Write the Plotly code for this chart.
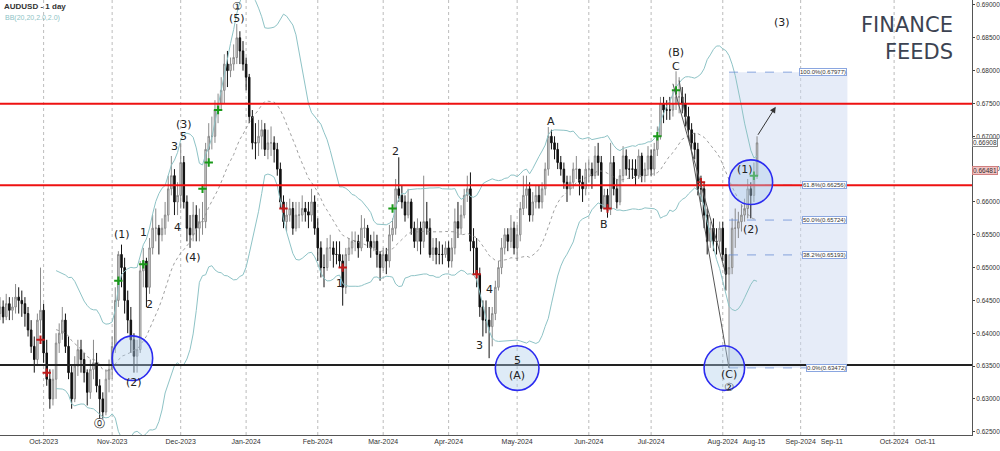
import numpy as np
import pandas as pd
import plotly.graph_objects as go

start_date = "2023-09-11"
closes = [6430,6440,6425,6445,6435, 6440,6455,6450,6445,6430, 6405,6380,6360,6420,6435,
6370,6330,6300,6330,6385, 6400,6420,6380,6340,6300, 6350,6375,6360,6340,6310,
6345,6355,6320,6300,6280, 6330,6345,6380,6450,6520, 6500,6450,6420,6390,6365,
6375,6495,6510,6470,6530, 6560,6560,6550,6560,6580, 6620,6640,6600,6610,6660,
6600,6560,6550,6580,6560, 6570,6570,6680,6700,6700, 6740,6750,6770,6810,6800,
6810,6820,6850,6830,6810, 6790,6730,6690,6690,6700, 6710,6680,6690,6690,6680,
6650,6600,6570,6580,6590, 6560,6580,6580,6590,6585, 6580,6600,6560,6530,6500,
6500,6530,6530,6520,6520, 6510,6470,6520,6530,6540, 6540,6530,6560,6560,6540,
6530,6540,6520,6500,6520, 6510,6550,6560,6620,6610, 6600,6580,6600,6560,6540,
6560,6540,6570,6560,6520, 6530,6520,6520,6520,6530, 6510,6530,6570,6560,6580,
6610,6620,6540,6530,6490, 6440,6420,6420,6410,6430, 6470,6500,6530,6550,6540,
6560,6530,6550,6590,6610, 6620,6580,6600,6610,6600, 6620,6650,6700,6690,6680,
6660,6650,6630,6620,6630, 6650,6650,6630,6620,6650, 6650,6640,6670,6660,6590,
6610,6590,6660,6620,6600, 6640,6670,6650,6650,6650, 6640,6670,6640,6650,6670,
6650,6680,6700,6750,6740, 6740,6740,6750,6760,6760, 6750,6730,6710,6690,6680,
6620,6620,6580,6540,6560, 6540,6540,6560,6520,6490, 6500,6560,6560,6570,6580,
6590,6620,6610,6640,6690]
highs = [6445,6455,6450,6460,6455, 6455,6475,6470,6465,6455, 6440,6420,6395,6430,6500,
6445,6390,6345,6345,6400, 6415,6440,6430,6395,6350, 6365,6390,6390,6370,6345,
6360,6390,6370,6330,6310, 6345,6360,6395,6470,6525, 6535,6515,6465,6440,6400,
6390,6510,6530,6515,6545, 6580,6590,6565,6575,6600, 6640,6670,6650,6630,6690,
6670,6610,6580,6600,6595, 6590,6600,6690,6720,6730, 6755,6765,6790,6825,6830,
6820,6840,6871,6860,6845, 6820,6795,6740,6720,6725, 6725,6720,6710,6715,6700,
6690,6660,6610,6600,6605, 6600,6600,6600,6610,6600, 6600,6620,6610,6575,6540,
6520,6545,6550,6540,6540, 6540,6520,6530,6545,6555, 6555,6550,6580,6575,6565,
6550,6555,6550,6525,6530, 6530,6565,6575,6635,6668, 6625,6610,6620,6605,6570,
6575,6570,6640,6600,6575, 6545,6545,6540,6535,6540, 6540,6545,6590,6600,6595,
6620,6640,6645,6560,6545, 6500,6450,6450,6440,6440, 6480,6510,6545,6560,6560,
6580,6570,6565,6600,6640, 6640,6630,6615,6625,6625, 6630,6660,6714,6710,6700,
6690,6670,6660,6640,6640, 6660,6670,6650,6640,6660, 6665,6660,6685,6690,6670,
6620,6620,6690,6670,6635, 6650,6685,6680,6665,6665, 6665,6680,6675,6660,6685,
6680,6690,6715,6760,6760, 6755,6760,6770,6799,6790, 6775,6765,6745,6720,6705,
6690,6640,6630,6590,6570, 6575,6560,6570,6570,6530, 6520,6575,6590,6585,6595,
6605,6635,6630,6660,6700]
lows = [6410,6420,6415,6420,6420, 6420,6430,6430,6425,6410, 6395,6370,6340,6350,6400,
6355,6320,6285,6290,6300, 6370,6390,6370,6330,6285, 6295,6335,6340,6325,6290,
6300,6330,6310,6270,6270, 6275,6310,6330,6370,6440, 6470,6430,6400,6370,6340,
6340,6370,6470,6440,6460, 6520,6540,6520,6540,6550, 6570,6610,6580,6580,6590,
6590,6540,6530,6540,6540, 6540,6550,6560,6660,6680, 6690,6720,6740,6750,6775,
6790,6800,6810,6810,6800, 6770,6720,6680,6665,6670, 6680,6670,6665,6670,6660,
6640,6590,6560,6555,6570, 6550,6555,6560,6570,6570, 6560,6570,6550,6510,6485,
6470,6495,6510,6500,6505, 6500,6442,6460,6510,6520, 6525,6515,6525,6545,6530,
6515,6525,6500,6480,6495, 6490,6500,6540,6550,6600, 6590,6570,6575,6550,6530,
6525,6520,6530,6550,6515, 6510,6505,6505,6505,6515, 6500,6500,6520,6545,6550,
6575,6600,6525,6490,6470, 6425,6395,6400,6362,6380, 6420,6465,6490,6520,6525,
6530,6520,6510,6540,6580, 6590,6570,6570,6590,6590, 6590,6610,6640,6680,6665,
6650,6640,6620,6600,6610, 6620,6635,6610,6600,6610, 6630,6620,6635,6640,6585,
6590,6576,6580,6610,6590, 6595,6630,6640,6635,6635, 6625,6635,6630,6630,6640,
6640,6640,6670,6695,6720, 6725,6725,6730,6740,6735, 6735,6715,6695,6680,6665,
6610,6600,6560,6520,6530, 6525,6520,6525,6510,6465, 6347,6490,6530,6545,6555,
6570,6575,6575,6600,6635]
first_open = 6420

res_levels = [0.67495, 0.66256]
support_level = 0.63517
fib_levels = [0.67977, 0.66256, 0.65724, 0.65193, 0.63472]
fib_labels = ["100.0%(0.67977)", "61.8%(0.66256)", "50.0%(0.65724)", "38.2%(0.65193)", "0.0%(0.63472)"]
y_ticks = [0.625, 0.63, 0.635, 0.64, 0.645, 0.65, 0.655, 0.66, 0.665, 0.67, 0.675, 0.68, 0.685, 0.69]
month_ticks = ["2023-10-02","2023-11-01","2023-12-01","2024-01-01","2024-02-01","2024-03-01","2024-04-01",
               "2024-05-01","2024-06-03","2024-07-01","2024-08-01","2024-08-15","2024-09-01","2024-09-11",
               "2024-10-01","2024-10-11"]
month_labels = ["Oct-2023","Nov-2023","Dec-2023","Jan-2024","Feb-2024","Mar-2024","Apr-2024","May-2024",
                "Jun-2024","Jul-2024","Aug-2024","Aug-15","Sep-2024","Sep-11","Oct-2024","Oct-11"]
grid_dates = ["2023-10-02","2023-11-01","2023-12-01","2024-01-01","2024-02-01","2024-03-01","2024-04-01",
              "2024-05-01","2024-06-03","2024-07-01","2024-08-01","2024-09-01","2024-10-01"]
wave_labels = [("⓪","2023-10-26",0.6262),("(1)","2023-11-06",0.6550),("(2)","2023-11-10",0.6325),
    ("1","2023-11-15",0.6553),("2","2023-11-17",0.6444),("3","2023-11-29",0.6684),("4","2023-11-30",0.6561),
    ("5","2023-12-04",0.6700),("(3)","2023-12-04",0.6718),("(4)","2023-12-07",0.6516),("(5)","2023-12-27",0.6879),
    ("①","2023-12-27",0.6898),("1","2024-02-12",0.6476),("2","2024-03-07",0.6677),("3","2024-04-15",0.6381),
    ("4","2024-04-18",0.6467),("5","2024-05-01",0.6358),("(A)","2024-05-01",0.6335),("A","2024-05-16",0.6722),
    ("B","2024-06-10",0.6566),("(B)","2024-07-11",0.6827),("C","2024-07-11",0.6806),("(1)","2024-08-12",0.6649),
    ("(2)","2024-08-14",0.6558),("(C)","2024-08-05",0.6337),("②","2024-08-05",0.6318),("(3)","2024-08-26",0.6874)]
circles = [("2023-11-10",0.6362),("2024-05-01",0.6347),("2024-08-02",0.6347),("2024-08-14",0.6630)]
green_marks = [("2023-11-03",0.6480),("2023-11-15",0.6505),("2023-12-12",0.6620),("2023-12-14",0.6660),("2023-12-19",0.6740),
               ("2024-03-06",0.6590),("2024-07-03",0.6700),("2024-07-11",0.6770),("2024-08-15",0.6640)]
red_marks = [("2023-09-29",0.6390),("2023-10-03",0.6340),("2024-01-17",0.6590),("2024-02-13",0.6500),("2024-04-12",0.6490),
             ("2024-06-11",0.6590),("2024-07-23",0.6630)]

dates = pd.bdate_range(start_date, periods=len(closes))
c = np.array(closes) / 1e4
o = np.concatenate([[first_open / 1e4], c[:-1]])
h = np.array(highs) / 1e4
l = np.array(lows) / 1e4
s = pd.Series(c, index=dates)
mid = s.rolling(20).mean()
sd = s.rolling(20).std(ddof=0)
weekend_days = [d.strftime("%Y-%m-%d") for d in pd.date_range("2023-09-01", "2024-08-18") if d.weekday() >= 5]

fig = go.Figure()
fib_x0, fib_x1 = "2024-08-05", "2024-09-16"
fig.add_shape(type="rect", x0=fib_x0, x1=fib_x1, y0=fib_levels[-1], y1=fib_levels[0],
              fillcolor="rgba(205,218,242,0.5)", line_width=0, layer="below")
for g in grid_dates:
    fig.add_shape(type="line", x0=g, x1=g, y0=0, y1=1, yref="paper", line=dict(color="#aaaaaa", width=0.8, dash="dot"), layer="below")
for lv in fib_levels:
    fig.add_shape(type="line", x0=fib_x0, x1=fib_x1, y0=lv, y1=lv, line=dict(color="#6b8fd6", width=0.8, dash="dash"))
fig.add_trace(go.Scatter(x=dates, y=mid + 2 * sd, mode="lines", line=dict(color="#8ec3c6", width=1), hoverinfo="skip"))
fig.add_trace(go.Scatter(x=dates, y=mid - 2 * sd, mode="lines", line=dict(color="#8ec3c6", width=1), hoverinfo="skip"))
fig.add_trace(go.Scatter(x=dates, y=mid, mode="lines", line=dict(color="#888888", width=0.8, dash="dot"), hoverinfo="skip"))
fig.add_trace(go.Candlestick(x=dates, open=o, high=h, low=l, close=c,
    increasing=dict(line=dict(color="#8a8a8a", width=1), fillcolor="#dcdcdc"),
    decreasing=dict(line=dict(color="#111111", width=1), fillcolor="#111111"), whiskerwidth=0))
fig.add_trace(go.Scatter(x=[d for d, _ in green_marks], y=[p for _, p in green_marks], mode="markers",
    marker=dict(symbol="cross-thin", size=6, line=dict(color="#1a9a1a", width=2))))
fig.add_trace(go.Scatter(x=[d for d, _ in red_marks], y=[p for _, p in red_marks], mode="markers",
    marker=dict(symbol="cross-thin", size=6, line=dict(color="#c01818", width=2))))

for lv in res_levels:
    fig.add_shape(type="line", x0=0, x1=1, xref="paper", y0=lv, y1=lv, line=dict(color="#ee1111", width=2))
fig.add_shape(type="line", x0=0, x1=1, xref="paper", y0=support_level, y1=support_level, line=dict(color="#222222", width=2))
fig.add_shape(type="line", x0="2024-07-12", x1="2024-08-05", y0=0.6785, y1=0.6347, line=dict(color="#555555", width=1))
fig.add_shape(type="line", x0="2024-07-10", x1="2024-08-02", y0=0.6780, y1=0.6490, line=dict(color="#555555", width=1))
for d, p in circles:
    dt = pd.Timestamp(d)
    fig.add_shape(type="circle", x0=dt - pd.Timedelta(days=9), x1=dt + pd.Timedelta(days=9), y0=p - 0.0034, y1=p + 0.0034,
                  line=dict(color="#2b2bf0", width=1.6), fillcolor="rgba(173,205,235,0.4)")
fig.add_annotation(x="2024-08-24", y=0.6745, ax="2024-08-16", ay=0.6700, xref="x", yref="y", axref="x", ayref="y",
                   text="", showarrow=True, arrowhead=2, arrowsize=1.2, arrowwidth=1, arrowcolor="#333333")
for t, d, p in wave_labels:
    fig.add_annotation(x=d, y=p, text=t, showarrow=False, font=dict(size=11, color="#222222", family="DejaVu Sans"))
for t, lv in zip(fib_labels, fib_levels):
    fig.add_annotation(x=fib_x1, y=lv, xanchor="right", text=t, showarrow=False, bgcolor="white",
                       bordercolor="#8aa6e0", borderwidth=1, borderpad=0, font=dict(size=6, color="#333333"))
fig.add_annotation(x=0, y=1, xref="paper", yref="paper", xanchor="left", yanchor="top", text="<b>AUDUSD - 1 day</b>",
                   showarrow=False, font=dict(size=8, color="#333333"), xshift=2)
fig.add_annotation(x=0, y=0.972, xref="paper", yref="paper", xanchor="left", yanchor="top", text="BB(20,20,2.0,2.0)",
                   showarrow=False, font=dict(size=7, color="#8ec3c6"), xshift=3)
fig.add_annotation(x=0.983, y=0.975, xref="paper", yref="paper", xanchor="right", yanchor="top",
                   text="FINANCE<br>FEEDS", showarrow=False, align="right",
                   font=dict(size=21, color="#3c4352", family="DejaVu Sans"))
fig.add_annotation(x=1, y=0.66908, xref="paper", xanchor="left", text="0.66908", showarrow=False, bgcolor="white",
                   bordercolor="#888888", borderwidth=1, borderpad=0, font=dict(size=6.5, color="#333333"))
fig.add_annotation(x=1, y=0.66481, xref="paper", xanchor="left", text="0.66481", showarrow=False, bgcolor="#f2c4c4",
                   bordercolor="#d08080", borderwidth=1, borderpad=0, font=dict(size=6.5, color="#333333"))

fig.update_layout(width=1000, height=451, margin=dict(l=0, r=28, t=0, b=16, autoexpand=False), plot_bgcolor="white",
                  paper_bgcolor="white", showlegend=False, font=dict(family="Liberation Sans"))
fig.update_xaxes(range=["2023-09-12", "2024-10-26"], rangebreaks=[dict(values=weekend_days)],
                 rangeslider_visible=False, tickvals=month_ticks, ticktext=month_labels, showgrid=False,
                 tickangle=0, tickfont=dict(size=7, color="#333333"), showline=True, linecolor="#555555", ticks="",
                 automargin=False)
fig.update_yaxes(range=[0.6245, 0.69076], side="right", tickvals=y_ticks, ticktext=[f"{v:.5f}" for v in y_ticks],
                 showgrid=False, tickfont=dict(size=6.5, color="#333333"), showline=True, linecolor="#555555",
                 ticks="outside", ticklen=2, automargin=False)
fig.write_html("out.html", config={"displayModeBar": False},
               post_script="document.body.style.margin='0';document.body.style.overflow='hidden';")
